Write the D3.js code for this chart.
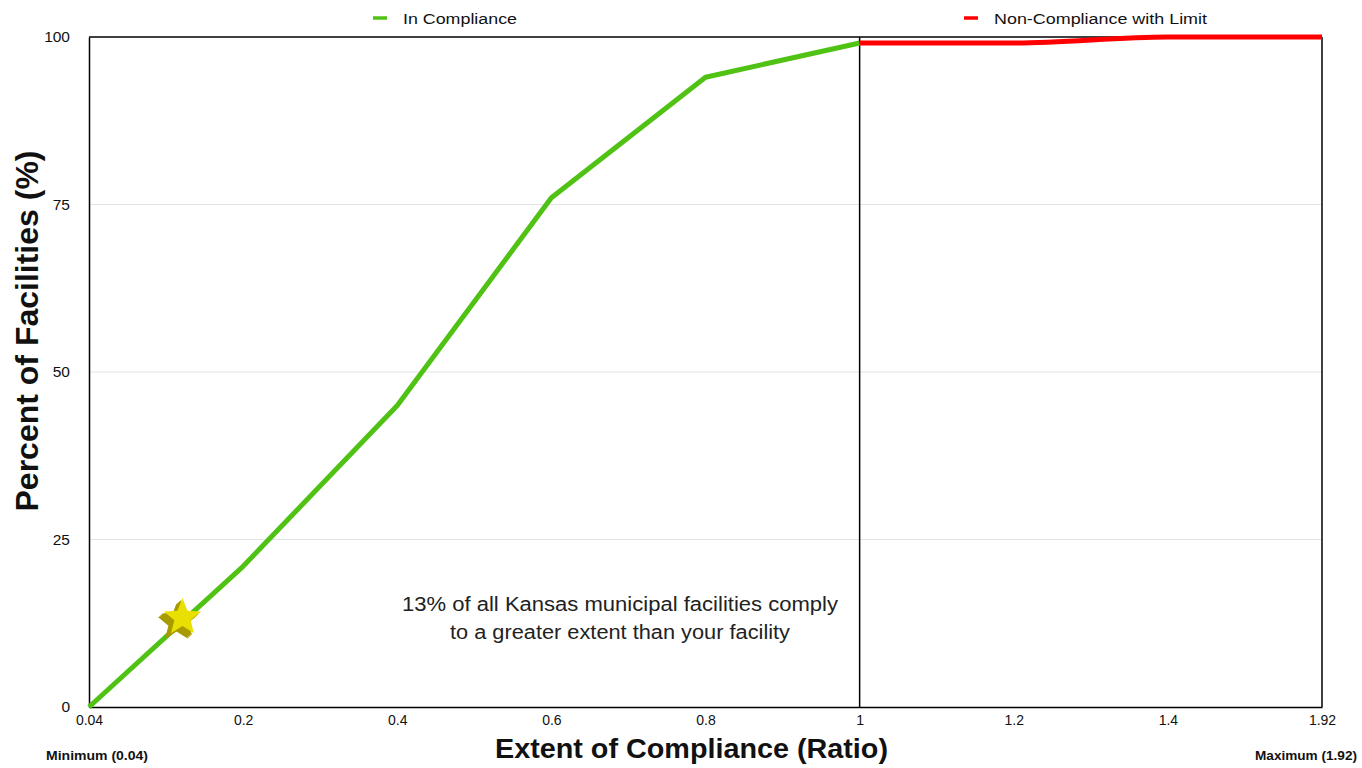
<!DOCTYPE html>
<html><head><meta charset="utf-8">
<script src="https://cdn.jsdelivr.net/npm/d3@7"></script>
<style>body{margin:0;background:#fff}svg{display:block}text{font-family:"Liberation Sans",Arial,Helvetica,sans-serif}</style>
</head><body>
<svg id="c" width="1362" height="768"></svg>
<script>
const xTicks = [0.04, 0.2, 0.4, 0.6, 0.8, 1, 1.2, 1.4, 1.92];
const yTicks = [0, 25, 50, 75, 100];
const complianceX = [0.04, 0.2, 0.4, 0.6, 0.8, 1];
const complianceY = [0, 21, 45, 76, 94, 99.1];
const nonComplianceX = [1, 1.2, 1.4, 1.92];
const nonComplianceY = [99.1, 99.1, 100, 100];
const facility = {ratio: 0.136, pct: 13.2};
const legendLabels = ["In Compliance", "Non-Compliance with Limit"];
const annotation = ["13% of all Kansas municipal facilities comply", "to a greater extent than your facility"];

const svg = d3.select("#c");
const L = 89, R = 1322, T = 37, B = 707;
const x = d3.scaleLinear().domain(xTicks).range(xTicks.map((d,i)=> L + i*(R-L)/(xTicks.length-1)));
const y = d3.scaleLinear().domain([0,100]).range([B,T]);

function fit(sel, w){ sel.attr("textLength", w).attr("lengthAdjust","spacingAndGlyphs"); return sel; }

// gridlines
svg.append("g").selectAll("line").data(yTicks.filter(d=>d>0&&d<100)).join("line")
  .attr("x1",L).attr("x2",R).attr("y1",d=>y(d)).attr("y2",d=>y(d))
  .attr("stroke","#e2e2e2").attr("stroke-width",1);

// axes
const ya = svg.append("g").attr("transform",`translate(${L},0)`)
  .call(d3.axisLeft(y).tickValues(yTicks).tickSize(0).tickPadding(19));
ya.select(".domain").attr("stroke","#000").attr("stroke-width",1.5);
ya.selectAll("text").attr("font-size",15.5).attr("fill","#111");
const xa = svg.append("g").attr("transform",`translate(0,${B})`)
  .call(d3.axisBottom(x).tickValues(xTicks).tickFormat(d=>String(d)).tickSize(0).tickPadding(8));
xa.select(".domain").attr("stroke","#000").attr("stroke-width",1.5);
xa.selectAll("text").attr("font-size",14).attr("fill","#111");

// top & right border
svg.append("line").attr("x1",L).attr("x2",R).attr("y1",T).attr("y2",T).attr("stroke","#000").attr("stroke-width",1.5);
svg.append("line").attr("x1",R).attr("x2",R).attr("y1",T).attr("y2",B).attr("stroke","#000").attr("stroke-width",1.5);
// limit line at 1
svg.append("line").attr("x1",x(1)).attr("x2",x(1)).attr("y1",T).attr("y2",B).attr("stroke","#000").attr("stroke-width",1.5);

const green = "#50c214", red = "#ff0000";
const line = d3.line().x(d=>x(d[0])).y(d=>y(d[1]));
svg.append("path").datum(complianceX.map((v,i)=>[v,complianceY[i]]))
  .attr("d",line).attr("fill","none").attr("stroke",green).attr("stroke-width",5).attr("stroke-linejoin","round");
svg.append("path").datum(nonComplianceX.map((v,i)=>[v,nonComplianceY[i]]))
  .attr("d",line.curve(d3.curveMonotoneX)).attr("fill","none").attr("stroke",red).attr("stroke-width",5);

// star
function starPts(cx,cy,ro,ri){const p=[];for(let i=0;i<10;i++){const r=i%2?ri:ro;const a=-Math.PI/2+i*Math.PI/5;p.push([cx+r*Math.cos(a),cy+r*Math.sin(a)]);}return p;}
const sx = x(facility.ratio), sy = y(facility.pct);
const sg = svg.append("g");
for(let k=5;k>=1;k--){
  sg.append("polygon").attr("points",starPts(sx-k*1,sy+k*0.9,19.5,8.5).map(p=>p.join(",")).join(" "))
    .attr("fill","#a89a00");
}
sg.append("polygon").attr("points",starPts(sx+1,sy-1,19.5,8.5).map(p=>p.join(",")).join(" ")).attr("fill","#e8e000");

// legend
const lg = [[373,green,legendLabels[0],114],[964,red,legendLabels[1],213]];
lg.forEach(([lx,c,t,w])=>{
  svg.append("line").attr("x1",lx).attr("x2",lx+14).attr("y1",18).attr("y2",18).attr("stroke",c).attr("stroke-width",3.5);
  fit(svg.append("text").attr("x",lx+30).attr("y",24).attr("font-size",14).attr("fill","#111").text(t), w);
});

// axis titles
fit(svg.append("text").attr("x",495).attr("y",758).attr("font-size",27).attr("font-weight","bold").attr("fill","#111").text("Extent of Compliance (Ratio)"), 393);
svg.append("text").attr("transform","translate(38,331) rotate(-90)").attr("text-anchor","middle").attr("font-size",32).attr("font-weight","bold").attr("fill","#111").text("Percent of Facilities (%)");
fit(svg.append("text").attr("x",46).attr("y",760).attr("font-size",13).attr("font-weight","bold").attr("fill","#111").text("Minimum (0.04)"), 102);
fit(svg.append("text").attr("x",1255).attr("y",760).attr("font-size",13).attr("font-weight","bold").attr("fill","#111").text("Maximum (1.92)"), 102);

// annotation
const annW = [436, 340];
annotation.forEach((t,i)=>{
  fit(svg.append("text").attr("x",620 - annW[i]/2).attr("y",611+i*27.5).attr("font-size",20).attr("fill","#222").text(t), annW[i]);
});
</script>
</body></html>
